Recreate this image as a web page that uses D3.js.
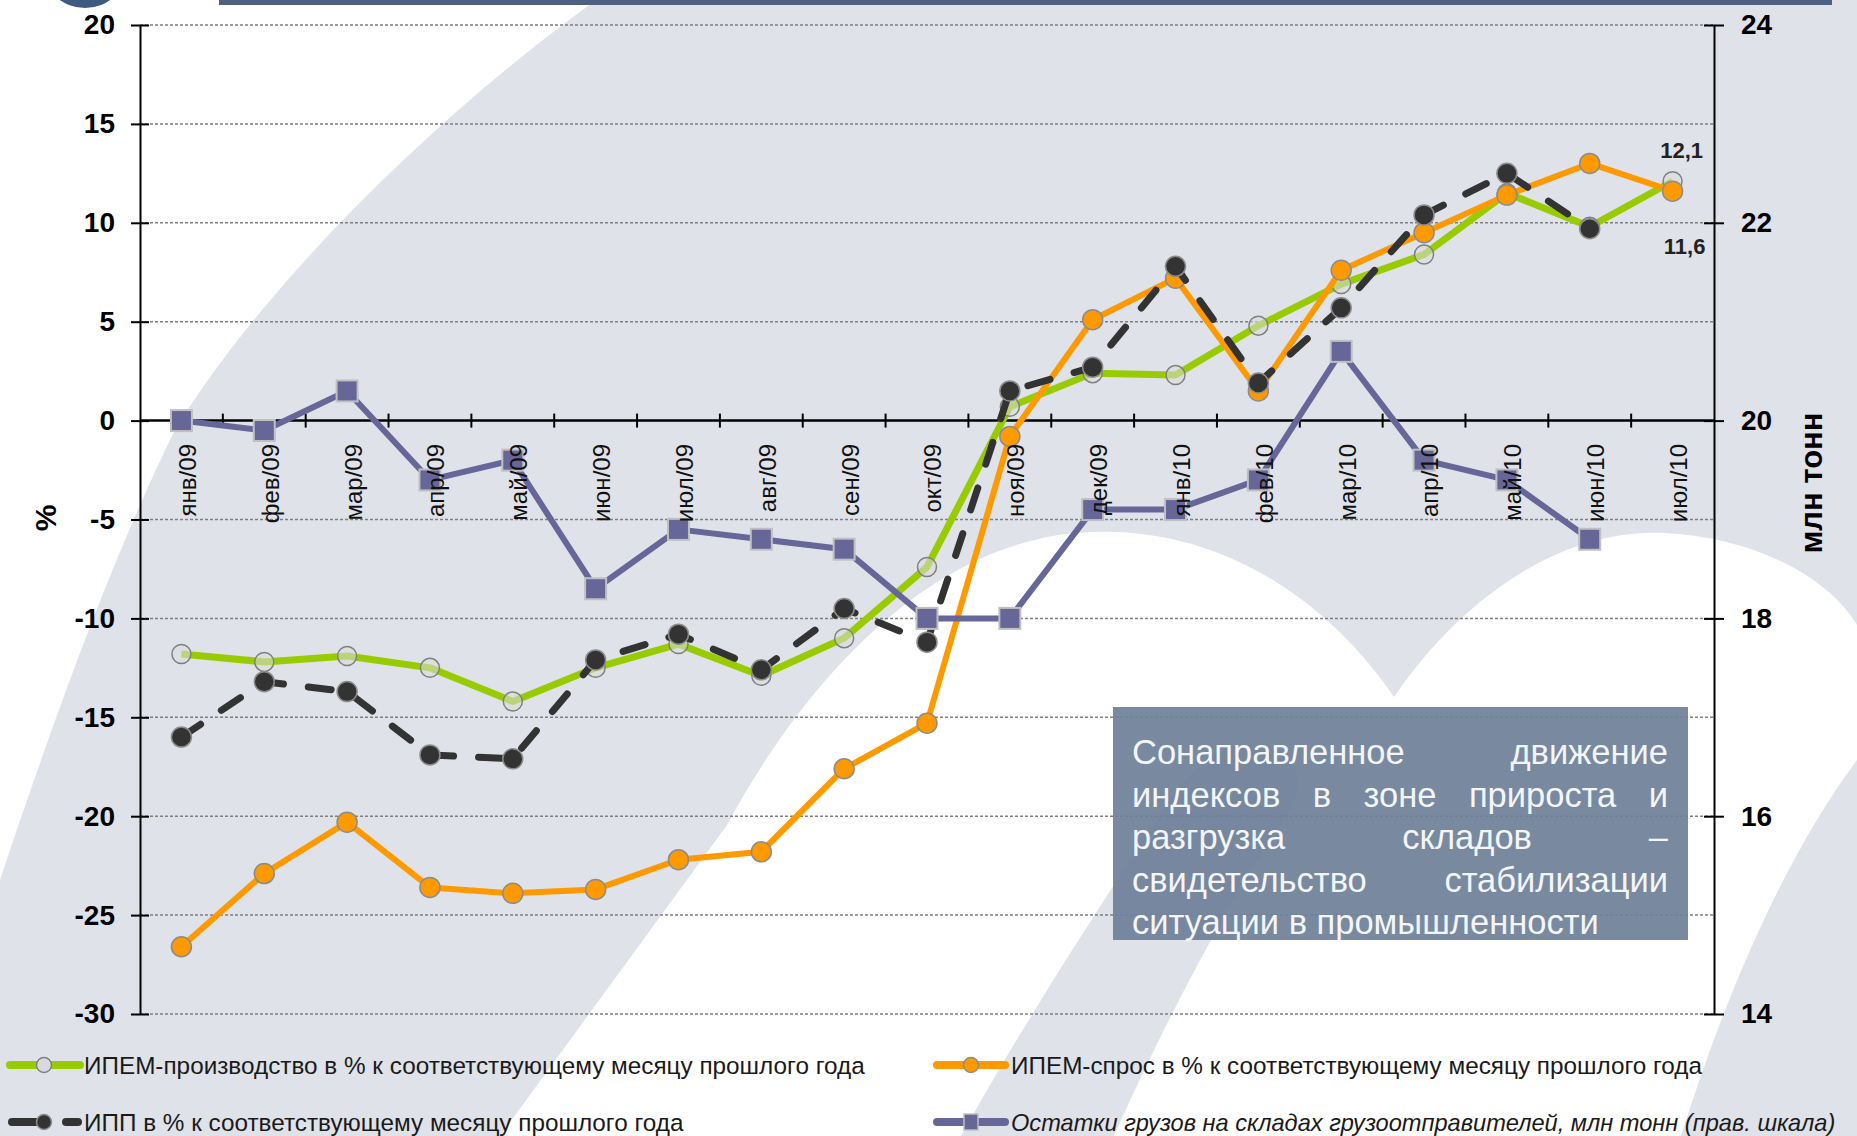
<!DOCTYPE html>
<html lang="ru">
<head>
<meta charset="utf-8">
<title>ИПЕМ</title>
<script src="https://d3js.org/d3.v7.min.js"></script>
<style>
  html, body { margin: 0; padding: 0; background: #fff; }
  svg { display: block; font-family: "Liberation Sans", Arial, sans-serif; }
  .grid line { stroke: #7f7f7f; stroke-width: 1.5; stroke-dasharray: 3,2; }
  .axis path, .axis line { stroke: #000; stroke-width: 2; }
  .axis text { font-size: 28px; font-weight: bold; fill: #000; font-family: "Liberation Sans", Arial, sans-serif; }
</style>
</head>
<body>
<script>
// data
const months = ["янв/09","фев/09","мар/09","апр/09","май/09","июн/09","июл/09","авг/09","сен/09","окт/09",
                "ноя/09","дек/09","янв/10","фев/10","мар/10","апр/10","май/10","июн/10","июл/10"];
const ipemProd   = [-11.8,-12.2,-11.9,-12.5,-14.2,-12.5,-11.3,-12.9,-11.0,-7.4, 0.7, 2.4, 2.3, 4.8, 6.9, 8.4,11.5, 9.8,12.1];
const ipemDemand = [-26.6,-22.9,-20.3,-23.6,-23.9,-23.7,-22.2,-21.8,-17.6,-15.3,-0.8, 5.1, 7.2, 1.5, 7.6, 9.5,11.4,13.0,11.6];
const ipp        = [-16.0,-13.2,-13.7,-16.9,-17.1,-12.1,-10.8,-12.6,-9.5,-11.2, 1.5, 2.7, 7.8, 1.9, 5.7,10.4,12.5, 9.7, null];
const stocks     = [20.0,19.9,20.3,19.4,19.6,18.3,18.9,18.8,18.7,18.0,18.0,19.1,19.1,19.4,20.7,19.6,19.4,18.8, null];
const leftTicks  = [20,15,10,5,0,-5,-10,-15,-20,-25,-30];
const rightTicks = [24,22,20,18,16,14];
const legendLabels = [
  "ИПЕМ-производство в % к соответствующему месяцу прошлого года",
  "ИПЕМ-спрос в % к соответствующему месяцу прошлого года",
  "ИПП в % к соответствующему месяцу прошлого года",
  "Остатки грузов на складах грузоотправителей, млн тонн (прав. шкала)"
];
const noteLines = ["Сонаправленное движение", "индексов в зоне прироста и", "разгрузка складов –",
                   "свидетельство стабилизации", "ситуации в промышленности"];

const W = 1857, H = 1136;
const plotL = 140, plotR = 1714, plotT = 25, plotB = 1014;

const svg = d3.select("body").append("svg").attr("width", W).attr("height", H);

// watermark background
svg.append("rect").attr("width", W).attr("height", H).attr("fill", "#dfe2e8");
svg.append("path").attr("fill", "#fff")
   .attr("d", "M0,0 L596,0 C430,120 260,290 175,430 C120,540 60,700 0,880 Z");
svg.append("path").attr("fill", "#fff")
   .attr("d", "M500,1136 L727,825 C800,690 920,548 1075,533 C1225,520 1335,610 1394,697 " +
              "C1460,600 1560,528 1665,533 C1760,538 1830,580 1857,625 L1857,760 " +
              "C1790,850 1730,980 1681,1136 Z");
svg.append("path").attr("fill", "#dfe2e8")
   .attr("d", "M961,1136 L1114,1136 C1170,1010 1230,900 1290,810 C1310,770 1290,745 1250,745 " +
              "C1215,745 1190,770 1170,800 C1090,920 1020,1030 961,1136 Z");
// header remnants
svg.append("rect").attr("x", 219).attr("y", 0).attr("width", 1613).attr("height", 5).attr("fill", "#4e6183");
svg.append("ellipse").attr("cx", 85).attr("cy", -32).attr("rx", 42).attr("ry", 40).attr("fill", "#3f5a80");

// scales
const x = d3.scaleBand().domain(months).range([plotL, plotR]);
const cx = m => x(m) + x.bandwidth() / 2;
const y = d3.scaleLinear().domain([-30, 20]).range([plotB, plotT]);
const y2 = d3.scaleLinear().domain([14, 24]).range([plotB, plotT]);

// grid
svg.append("g").attr("class", "grid")
   .selectAll("line").data(leftTicks.filter(d => d !== 0)).join("line")
   .attr("x1", plotL).attr("x2", plotR).attr("y1", d => y(d)).attr("y2", d => y(d));

// zero line with category ticks
svg.append("line").attr("x1", plotL).attr("x2", plotR).attr("y1", y(0)).attr("y2", y(0))
   .attr("stroke", "#000").attr("stroke-width", 2.5);
svg.append("g").selectAll("line").data(months.slice(1)).join("line")
   .attr("x1", d => x(d)).attr("x2", d => x(d)).attr("y1", y(0) - 7).attr("y2", y(0) + 7)
   .attr("stroke", "#000").attr("stroke-width", 2);

// series
function drawSeries(vals, scale, color, width, dash) {
  const pts = months.map((m, i) => ({m, v: vals[i]}));
  const line = d3.line().defined(d => d.v !== null).x(d => cx(d.m)).y(d => scale(d.v));
  const p = svg.append("path").datum(pts).attr("d", line)
     .attr("fill", "none").attr("stroke", color).attr("stroke-width", width)
     .attr("stroke-linejoin", "round");
  if (dash) p.attr("stroke-dasharray", dash).attr("stroke-linecap", "round");
  return pts.filter(d => d.v !== null);
}

const gPts = drawSeries(ipemProd, y, "#99cc00", 7);
svg.append("g").selectAll("circle").data(gPts).join("circle")
   .attr("cx", d => cx(d.m)).attr("cy", d => y(d.v)).attr("r", 9.5)
   .attr("fill", "#d8dadd").attr("fill-opacity", 0.55).attr("stroke", "#808080").attr("stroke-width", 1.5);

const oPts = drawSeries(ipemDemand, y, "#ff9900", 6);
svg.append("g").selectAll("circle").data(oPts).join("circle")
   .attr("cx", d => cx(d.m)).attr("cy", d => y(d.v)).attr("r", 10)
   .attr("fill", "#ff9900").attr("stroke", "#8c8c8c").attr("stroke-width", 1.5);

const bPts = drawSeries(ipp, y, "#333333", 7, "23,25");
svg.append("g").selectAll("circle").data(bPts).join("circle")
   .attr("cx", d => cx(d.m)).attr("cy", d => y(d.v)).attr("r", 10)
   .attr("fill", "#333333").attr("stroke", "#8c8c8c").attr("stroke-width", 1.5);

const sPts = drawSeries(stocks, y2, "#666699", 6);
svg.append("g").selectAll("rect").data(sPts).join("rect")
   .attr("x", d => cx(d.m) - 10.5).attr("y", d => y2(d.v) - 10.5).attr("width", 21).attr("height", 21)
   .attr("fill", "#666699").attr("stroke", "#c0c0c0").attr("stroke-width", 2);

// month labels
svg.append("g").selectAll("text").data(months).join("text")
   .attr("transform", d => `translate(${cx(d) + 6},444) rotate(-90)`)
   .attr("text-anchor", "end").attr("dy", "0.35em")
   .attr("font-size", 24).attr("fill", "#111").text(d => d);

// axes (plain hyphen minus, as in the original)
const axL = svg.append("g").attr("class", "axis").attr("transform", `translate(${plotL},0)`)
   .call(d3.axisLeft(y).tickValues(leftTicks).tickFormat(d => String(d))
         .tickSize(9).tickSizeOuter(0).tickPadding(16));
axL.selectAll(".tick line").attr("x1", 9);
const axR = svg.append("g").attr("class", "axis").attr("transform", `translate(${plotR},0)`)
   .call(d3.axisRight(y2).tickValues(rightTicks).tickFormat(d => String(d))
         .tickSize(10).tickSizeOuter(0).tickPadding(17));
axR.selectAll(".tick line").attr("x1", -10);

svg.append("text").attr("transform", "translate(56,518) rotate(-90)").attr("text-anchor", "middle")
   .attr("font-size", 30).attr("font-weight", "bold").text("%");
svg.append("text").attr("transform", "translate(1822,483) rotate(-90)").attr("text-anchor", "middle")
   .attr("font-size", 31).attr("font-weight", "bold").text("млн тонн");

// data labels for the last month
const last = months[months.length - 1];
svg.append("text").attr("x", cx(last) + 9).attr("y", y(ipemProd[18]) - 23).attr("text-anchor", "middle")
   .attr("font-size", 22).attr("font-weight", "bold").attr("fill", "#222").text("12,1");
svg.append("text").attr("x", cx(last) + 12).attr("y", y(ipemDemand[18]) + 63).attr("text-anchor", "middle")
   .attr("font-size", 22).attr("font-weight", "bold").attr("fill", "#222").text("11,6");

// note box with justified text
svg.append("rect").attr("x", 1113).attr("y", 707).attr("width", 575).attr("height", 233)
   .attr("fill", "#6e8099").attr("fill-opacity", 0.93);
const noteG = svg.append("g").attr("font-size", 34.5).attr("fill", "#f3f5f8");
const tx0 = 1132, tx1 = 1668;
noteLines.forEach((ln, i) => {
  const by = 764 + i * 42.6;
  const words = ln.split(" ");
  if (i === noteLines.length - 1 || words.length < 2) {
    noteG.append("text").attr("x", tx0).attr("y", by).text(ln);
    return;
  }
  const nodes = words.map(w => noteG.append("text").attr("y", by).text(w));
  const widths = nodes.map(n => n.node().getComputedTextLength());
  const gap = (tx1 - tx0 - d3.sum(widths)) / (words.length - 1);
  let xx = tx0;
  nodes.forEach((n, k) => { n.attr("x", xx); xx += widths[k] + gap; });
});

// legend
const lg = svg.append("g");
const fs = 24.3;
// green
lg.append("line").attr("x1", 10).attr("x2", 80).attr("y1", 1065).attr("y2", 1065)
  .attr("stroke", "#99cc00").attr("stroke-width", 8).attr("stroke-linecap", "round");
lg.append("circle").attr("cx", 44).attr("cy", 1065).attr("r", 7.5)
  .attr("fill", "#d8dadd").attr("stroke", "#808080").attr("stroke-width", 1.5);
lg.append("text").attr("x", 84).attr("y", 1074).attr("font-size", fs).attr("fill", "#1a1a1a").text(legendLabels[0]);
// orange
lg.append("line").attr("x1", 937).attr("x2", 1005).attr("y1", 1065).attr("y2", 1065)
  .attr("stroke", "#ff9900").attr("stroke-width", 8).attr("stroke-linecap", "round");
lg.append("circle").attr("cx", 971).attr("cy", 1065).attr("r", 7.5)
  .attr("fill", "#ff9900").attr("stroke", "#8c8c8c").attr("stroke-width", 1.5);
lg.append("text").attr("x", 1011).attr("y", 1074).attr("font-size", fs).attr("fill", "#1a1a1a").text(legendLabels[1]);
// black dashed
[[12, 46], [66, 78]].forEach(s => lg.append("line").attr("x1", s[0]).attr("x2", s[1]).attr("y1", 1122).attr("y2", 1122)
  .attr("stroke", "#333").attr("stroke-width", 8).attr("stroke-linecap", "round"));
lg.append("circle").attr("cx", 44).attr("cy", 1122).attr("r", 7.5)
  .attr("fill", "#333").attr("stroke", "#8c8c8c").attr("stroke-width", 1.5);
lg.append("text").attr("x", 84).attr("y", 1131).attr("font-size", fs).attr("fill", "#1a1a1a").text(legendLabels[2]);
// blue
lg.append("line").attr("x1", 937).attr("x2", 1005).attr("y1", 1122).attr("y2", 1122)
  .attr("stroke", "#666699").attr("stroke-width", 8).attr("stroke-linecap", "round");
lg.append("rect").attr("x", 964).attr("y", 1114).attr("width", 14).attr("height", 16)
  .attr("fill", "#666699").attr("stroke", "#c0c0c0").attr("stroke-width", 1.5);
lg.append("text").attr("x", 1011).attr("y", 1131).attr("font-size", 23.6).attr("font-style", "italic")
  .attr("fill", "#1a1a1a").text(legendLabels[3]);
</script>
</body>
</html>
